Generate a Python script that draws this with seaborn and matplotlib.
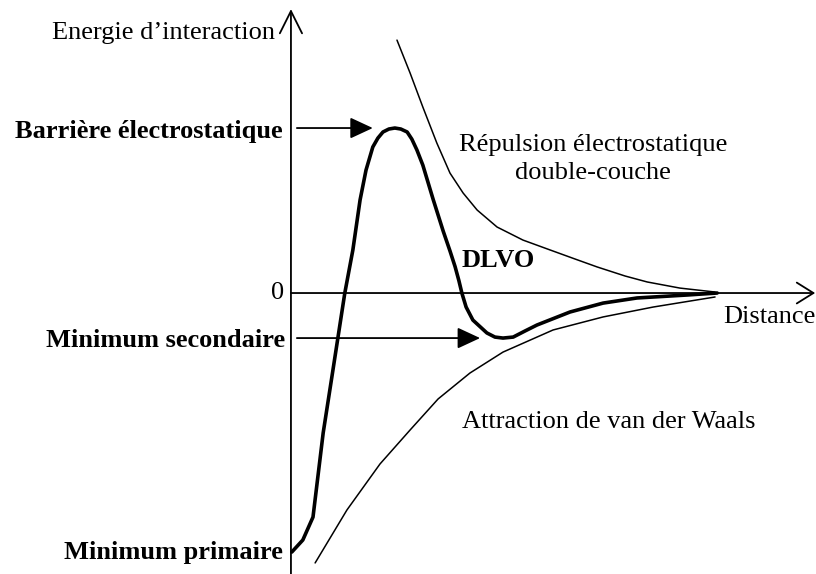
import numpy as np
import pandas as pd
import seaborn as sns
import matplotlib.pyplot as plt

# curves (distance and energy in arbitrary units)
rep_dist = [25.0, 28.1, 31.1, 34.4, 37.5, 40.6, 43.9, 48.6, 54.7, 61.1, 67.0, 72.2, 78.8, 84.0, 91.7, 100.0]
rep_energy = [153.3, 133.3, 112.7, 90.9, 72.7, 60.6, 50.3, 40.0, 32.1, 26.1, 20.6, 15.8, 10.3, 6.7, 3.0, 0.6]

att_dist = [5.7, 13.2, 21.0, 28.1, 34.7, 42.2, 50.0, 61.8, 73.6, 85.4, 100.0]
att_energy = [-163.6, -131.5, -103.6, -83.0, -64.2, -48.5, -35.8, -22.4, -14.5, -8.5, -2.4]

dlvo_dist = [0.2, 2.8, 5.2, 6.4, 7.6, 9.9, 12.7, 14.6, 16.3, 17.7,
             19.3, 20.5, 21.7, 23.1, 24.5, 25.9, 27.4, 28.5, 29.7, 31.1,
             33.5, 35.9, 37.5, 38.7, 39.6, 40.3, 41.3, 42.9, 46.2, 48.1,
             50.0, 52.4, 55.2, 58.0, 65.8, 73.6, 81.6, 93.4, 100.5]
dlvo_energy = [-157.0, -149.7, -135.8, -110.3, -84.8, -46.7, 0.0, 26.1, 56.4, 74.5,
               88.5, 93.9, 97.6, 99.4, 100.0, 99.4, 97.6, 93.3, 86.7, 77.5,
               57.0, 37.5, 25.5, 16.0, 7.5, 0.0, -8.5, -16.4, -24.2, -26.7,
               -27.3, -26.7, -23.0, -19.4, -11.5, -6.1, -3.0, -1.2, 0.0]

barrier = (24.5, 100.0)
secondary_min = (50.0, -27.3)

sns.set_style("white")
plt.rcParams['font.family'] = ['Liberation Serif', 'DejaVu Serif']
plt.rcParams['text.color'] = 'black'

fig = plt.figure(figsize=(8.16, 5.74), dpi=100)
ax = fig.add_axes([0, 0, 1, 1])

sns.lineplot(x=rep_dist, y=rep_energy, color='black', linewidth=1.1, sort=False, estimator=None, ax=ax)
sns.lineplot(x=att_dist, y=att_energy, color='black', linewidth=1.1, sort=False, estimator=None, ax=ax)
sns.lineplot(x=dlvo_dist, y=dlvo_energy, color='black', linewidth=2.6, sort=False, estimator=None, ax=ax)

xmin, xmax = -68.6, 123.8
ymin, ymax = -170.3, 177.6
ax.set_xlim(xmin, xmax)
ax.set_ylim(ymin, ymax)
ax.axis('off')

# axes with arrow heads
ax.annotate('', xy=(0, 172.1), xytext=(0, ymin),
            arrowprops=dict(arrowstyle='->,head_length=1.6,head_width=0.8', mutation_scale=10,
                            color='black', lw=1.3, shrinkA=0, shrinkB=0))
ax.annotate('', xy=(123.6, 0), xytext=(0, 0),
            arrowprops=dict(arrowstyle='->,head_length=1.2,head_width=0.75', mutation_scale=10,
                            color='black', lw=1.3, shrinkA=0, shrinkB=0))

# pointer arrows
ax.annotate('', xy=(19.3, barrier[1]), xytext=(1.4, barrier[1]),
            arrowprops=dict(arrowstyle='-|>,head_length=1.4,head_width=0.65', mutation_scale=10,
                            color='black', lw=1.3, shrinkA=0, shrinkB=0))
ax.annotate('', xy=(44.6, secondary_min[1]), xytext=(1.4, secondary_min[1]),
            arrowprops=dict(arrowstyle='-|>,head_length=1.4,head_width=0.65', mutation_scale=10,
                            color='black', lw=1.3, shrinkA=0, shrinkB=0))

fs = 19
ax.text(-3.8, 157.6, 'Energie d\u2019interaction', ha='right', va='center', fontsize=fs)
ax.text(-1.9, 98.2, 'Barrière électrostatique', ha='right', va='center', fontsize=fs, fontweight='bold')
ax.text(-1.7, 0, '0', ha='right', va='center', fontsize=fs)
ax.text(-1.4, -28.5, 'Minimum secondaire', ha='right', va='center', fontsize=fs, fontweight='bold')
ax.text(-1.9, -157.0, 'Minimum primaire', ha='right', va='center', fontsize=fs, fontweight='bold')
ax.text(71.3, 89.7, 'Répulsion électrostatique', ha='center', va='center', fontsize=fs)
ax.text(71.3, 72.7, 'double-couche', ha='center', va='center', fontsize=fs)
ax.text(40.3, 20.0, 'DLVO', ha='left', va='center', fontsize=fs, fontweight='bold')
ax.text(101.9, -14.5, 'Distance', ha='left', va='center', fontsize=fs)
ax.text(40.3, -78.2, 'Attraction de van der Waals', ha='left', va='center', fontsize=fs)

fig.savefig('out.png', dpi=100)
